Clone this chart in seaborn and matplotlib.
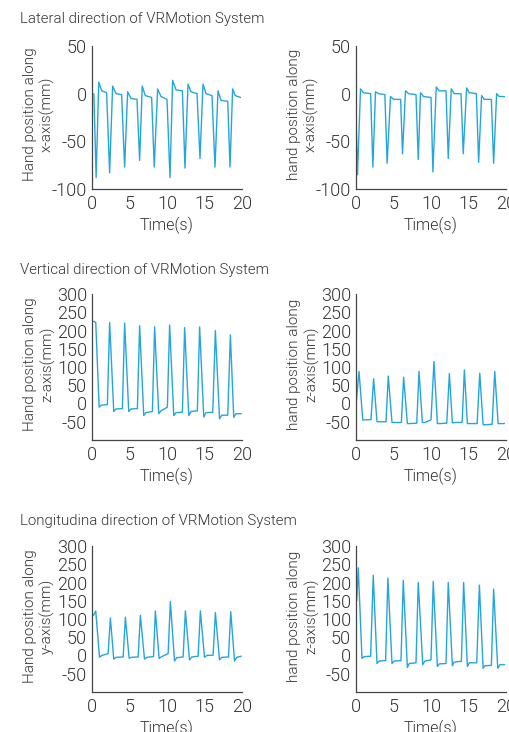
import matplotlib
matplotlib.use("Agg")
import matplotlib.pyplot as plt
import seaborn as sns
import pandas as pd

sns.set_theme(style="white")
plt.rcParams['font.family'] = ['Roboto', 'DejaVu Sans']
plt.rcParams['axes.unicode_minus'] = False

# ---- data ----
lat_left_t = [0.25, 0.55, 0.9, 1.3, 1.95, 2.35, 2.75, 3.2, 3.95, 4.35, 4.75, 5.2, 6.0, 6.35, 6.7, 7.1,
              7.95, 8.3, 8.75, 9.2, 10.0, 10.4, 10.75, 11.2, 12.05, 12.4, 12.8, 13.2, 14.0, 14.4,
              14.8, 15.2, 16.0, 16.4, 16.8, 17.2, 18.1, 18.4, 18.75, 19.1, 19.8]
lat_left_v = [0, -88, 12, 3, 1, -83, 8, 0, -1, -77, 2, -5, -6, -70, 8, -2,
              -4, -77, 5, -3, -6, -88, 14, 4, 3, -78, 10, 2, 0, -68,
              10, 0, -2, -77, 3, -7, -8, -77, 5, -2, -4]

lat_right_t = [0.02, 0.2, 0.6, 1.0, 1.95, 2.25, 2.6, 3.0, 3.85, 4.15, 4.6, 5.0, 5.95, 6.2, 6.6, 7.0,
               8.0, 8.3, 8.6, 9.0, 10.0, 10.25, 10.7, 11.1, 12.0, 12.3, 12.7, 13.1, 14.0, 14.3,
               14.75, 15.1, 16.05, 16.35, 16.75, 17.1, 18.05, 18.35, 18.75, 19.1, 19.8]
lat_right_v = [-30, -85, 5, 1, 0, -77, 2, 0, -1, -73, -3, -6, -6, -63, 3, 0,
               -1, -69, 1, -3, -4, -82, 7, 3, 3, -68, 5, 0, 0, -63,
               6, 1, 0, -72, -2, -6, -6, -73, 0, -3, -3]

ver_left_t = [0.2, 0.5, 0.95, 1.2, 2.05, 2.35, 2.9, 3.2, 4.05, 4.35, 4.9, 5.2, 6.05, 6.35, 6.9, 7.2,
              8.05, 8.35, 8.9, 9.2, 10.05, 10.35, 10.9, 11.2, 12.05, 12.35, 12.9, 13.2, 14.05, 14.35,
              14.9, 15.2, 16.1, 16.45, 17.0, 17.3, 18.1, 18.45, 18.9, 19.2, 19.9]
ver_left_v = [225, 222, -10, -5, -3, 222, -22, -15, -14, 220, -22, -15, -14, 213, -33, -25,
              -22, 210, -28, -20, -10, 215, -33, -25, -24, 208, -33, -22, -20, 210,
              -37, -25, -24, 200, -42, -32, -32, 188, -38, -28, -28]

ver_right_t = [0.02, 0.4, 0.9, 1.2, 2.0, 2.35, 2.8, 3.1, 4.0, 4.3, 4.8, 5.1, 6.05, 6.35, 6.85, 7.2,
               8.1, 8.4, 8.85, 9.2, 10.0, 10.4, 10.85, 11.2, 12.1, 12.45, 12.85, 13.2, 14.15, 14.45,
               14.85, 15.2, 16.15, 16.5, 16.95, 17.3, 18.15, 18.5, 18.95, 19.3, 19.8]
ver_right_v = [0, 88, -45, -45, -44, 68, -50, -50, -50, 75, -52, -52, -52, 72, -55, -55,
               -54, 88, -52, -52, -45, 115, -55, -55, -54, 82, -53, -52, -52, 92,
               -55, -55, -55, 83, -58, -58, -57, 88, -55, -55, -55]

lon_left_t = [0.2, 0.5, 1.0, 1.3, 2.15, 2.45, 2.9, 3.2, 4.15, 4.45, 4.95, 5.3, 6.15, 6.45, 7.0, 7.3,
              8.2, 8.45, 8.95, 9.3, 10.15, 10.45, 11.0, 11.3, 12.15, 12.45, 13.0, 13.3, 14.15, 14.45,
              15.0, 15.3, 16.15, 16.45, 17.0, 17.3, 18.2, 18.5, 19.0, 19.3, 19.9]
lon_left_v = [110, 122, -5, 0, 5, 103, -10, -5, -4, 105, -7, -5, -4, 110, -10, -5,
              -3, 122, -8, -3, 5, 148, -15, -6, -4, 122, -12, -4, -2, 122,
              -5, 0, 1, 118, -12, -5, -4, 120, -15, -5, -2]

lon_right_t = [0.1, 0.3, 0.8, 1.1, 1.95, 2.3, 2.8, 3.1, 3.95, 4.25, 4.8, 5.1, 6.0, 6.3, 6.85, 7.1,
               8.0, 8.3, 8.9, 9.2, 10.0, 10.3, 10.85, 11.1, 12.0, 12.3, 12.85, 13.1, 14.05, 14.35,
               14.85, 15.1, 16.1, 16.45, 16.95, 17.2, 18.05, 18.35, 18.9, 19.2, 19.8]
lon_right_v = [150, 240, -8, -3, -2, 220, -22, -15, -14, 212, -22, -15, -14, 206, -33, -22,
               -20, 200, -25, -15, -12, 203, -30, -23, -22, 200, -28, -18, -16, 200,
               -30, -20, -20, 193, -35, -28, -27, 182, -35, -25, -25]

section_titles = ["Lateral direction of VRMotion System",
                  "Vertical direction of VRMotion System",
                  "Longitudina direction of VRMotion System"]
left_ylabels = ["Hand position along\nx-axis(mm)", "Hand position along\nz-axis(mm)",
                "Hand position along\ny-axis(mm)"]
right_ylabels = ["hand position along\nx-axis(mm)", "hand position along\nz-axis(mm)",
                 "hand position along\nz-axis(mm)"]
xlabel = "Time(s)"
xticks = [0, 5, 10, 15, 20]
yticks_row1 = [-100, -50, 0, 50]
yticks_rows23 = [-50, 0, 50, 100, 150, 200, 250, 300]

series = [[(lat_left_t, lat_left_v), (lat_right_t, lat_right_v)],
          [(ver_left_t, ver_left_v), (ver_right_t, ver_right_v)],
          [(lon_left_t, lon_left_v), (lon_right_t, lon_right_v)]]

# ---- layout ----
W, H = 510, 732
fig = plt.figure(figsize=(W / 100, H / 100), dpi=100)

def px_axes(x0, y_top, x1, y_bot):
    return fig.add_axes([x0 / W, 1 - y_bot / H, (x1 - x0) / W, (y_bot - y_top) / H])

rows_px = [(46, 189), (294, 440), (546, 692)]
cols_px = [(92, 242), (356, 506)]
title_y = [19, 270, 521]
line_color = "#25a6db"
text_color = "#333333"

for r in range(3):
    fig.text(20 / W, 1 - title_y[r] / H, section_titles[r], fontsize=10.8,
             color=text_color, va="center", ha="left", fontweight=300)
    for c in range(2):
        ax = px_axes(cols_px[c][0], rows_px[r][0], cols_px[c][1], rows_px[r][1])
        t, v = series[r][c]
        df = pd.DataFrame({"t": t, "v": v})
        sns.lineplot(data=df, x="t", y="v", ax=ax, color=line_color, linewidth=1.0,
                     estimator=None, sort=False)
        ax.set_xlim(0, 20)
        if r == 0:
            ax.set_ylim(-100, 50)
            ax.set_yticks(yticks_row1)
        else:
            ax.set_ylim(-100, 300)
            ax.set_yticks(yticks_rows23)
        ax.set_xticks(xticks)
        ax.set_xticklabels([str(x) for x in xticks])
        for s in ["top", "right"]:
            ax.spines[s].set_visible(False)
        for s in ["left", "bottom"]:
            ax.spines[s].set_color("#444444")
            ax.spines[s].set_linewidth(0.9)
        ax.tick_params(axis="x", direction="in", length=3, width=0.8, colors="#444444",
                       labelsize=13, labelcolor=text_color, pad=4)
        ax.tick_params(axis="y", direction="out", length=3, width=0.8, colors="#444444",
                       labelsize=13, labelcolor=text_color, pad=0.5)
        for lab in ax.get_xticklabels() + ax.get_yticklabels():
            lab.set_fontweight(300)
        ax.set_xlabel(xlabel, fontsize=11.5, color=text_color, labelpad=3, fontweight=300)
        ax.set_ylabel(left_ylabels[r] if c == 0 else right_ylabels[r], fontsize=11,
                      color=text_color, linespacing=1.25, fontweight=300)
        ax.yaxis.label.set_verticalalignment("center")
        ax.yaxis.set_label_coords(-53 / 150, 0.52)
        ax.patch.set_alpha(0)

fig.savefig("out.png", dpi=100)
